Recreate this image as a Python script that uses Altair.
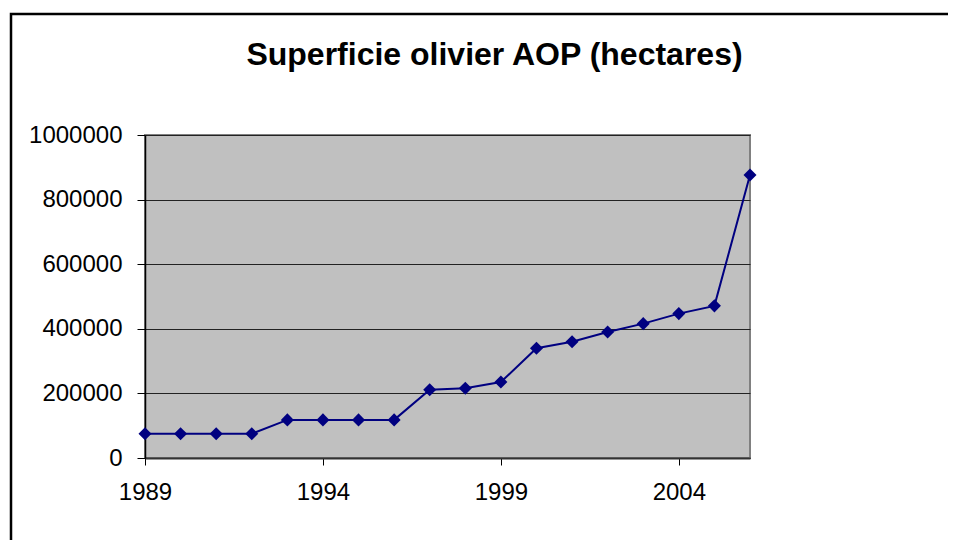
import altair as alt
import pandas as pd

years = list(range(1989, 2007))
hectares = [75000, 75000, 75000, 75000, 118000, 118000, 118000, 118000,
            211000, 216000, 235000, 340000, 360000, 390000, 416000, 447000,
            471000, 876000]
x_ticks = [1989, 1994, 1999, 2004]
y_ticks = [0, 200000, 400000, 600000, 800000, 1000000]
title_text = "Superficie olivier AOP (hectares)"

df = pd.DataFrame({"year": years, "value": hectares})

FONT = "Liberation Sans"
W, H = 605, 323

x_enc = alt.X("year:Q", scale=alt.Scale(domain=[1989, 2006], nice=False, zero=False),
              axis=alt.Axis(values=x_ticks, format="d", title=None, grid=False,
                            labelFont=FONT, labelFontSize=24, labelColor="black",
                            tickSize=7, tickColor="black", labelPadding=15,
                            domainColor="#333333", domainWidth=2, labelFlush=False))
y_enc = alt.Y("value:Q", scale=alt.Scale(domain=[0, 1000000], nice=False),
              axis=alt.Axis(values=y_ticks, format="d", title=None, grid=True,
                            gridColor="#222222", gridWidth=1,
                            labelFont=FONT, labelFontSize=24, labelColor="black",
                            tickSize=8, tickColor="black", labelPadding=15,
                            domainColor="black", domainWidth=1.5))

line = alt.Chart(df).mark_line(color="#000080", strokeWidth=2).encode(x=x_enc, y=y_enc)
pts = alt.Chart(df).mark_point(shape="diamond", filled=True, size=170, color="#000080",
                               opacity=1).encode(x="year:Q", y="value:Q")

frame = alt.Chart(pd.DataFrame({"k": [0]})).mark_rect(
    fill=None, stroke="black", strokeWidth=2.5, clip=False
).encode(x=alt.value(-134), y=alt.value(-121), x2=alt.value(W + 300), y2=alt.value(H + 200))

chart = alt.layer(frame, line, pts).properties(
    width=W, height=H,
    autosize=alt.AutoSizeParams(type="none"),
    padding={"left": 137, "top": 127, "right": 198, "bottom": 82},
    title=alt.TitleParams(title_text, font=FONT, fontSize=32, fontWeight="bold",
                          color="black", anchor="middle", dx=47, offset=-84,
                          baseline="alphabetic"),
).configure(background="white").configure_view(fill="#C0C0C0", stroke="#808080", strokeWidth=2)

chart.save("out.html", embed_options={"renderer": "svg", "actions": False})
